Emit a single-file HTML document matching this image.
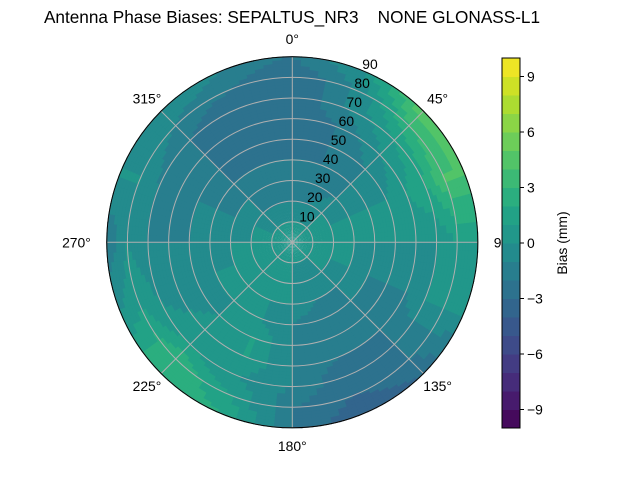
<!DOCTYPE html>
<html><head><meta charset="utf-8"><style>
body{margin:0;background:#fff}
svg{display:block;font-family:"Liberation Sans","DejaVu Sans",sans-serif}
</style></head><body>
<svg id="chart" width="640" height="480" viewBox="0 0 640 480">
<text x="292" y="23" font-size="17.2" text-anchor="middle" style="white-space:pre" xml:space="preserve">Antenna Phase Biases: SEPALTUS_NR3    NONE GLONASS-L1</text>
<g id="field"></g>
<g id="grid"></g>
<g id="labels"></g>
<g id="cbar"></g>
</svg>
<script>
// data: azimuth sectors (deg, clockwise from N) x zenith rings (0..90 step 10)
const azimuths = [0,22.5,45,67.5,90,112.5,135,157.5,180,202.5,225,247.5,270,292.5,315,337.5];
const zenithNodes = [0,10,20,30,40,50,60,70,80,90];
const biasValues = [
 [0,0,-1,-2,-2,-3,-3,-3,-3,-2],
 [0,0,-1,-2,-2,-2,-2,-1,-1,0],
 [0,0,0,-1,-1,-1,0,1,3,5],
 [0,0,0,0,0,0,1,2,4,4],
 [0,0,0,0,0,0,0,0,1,1],
 [0,0,0,0,-1,-1,-1,0,0,0],
 [0,0,0,-1,-1,-2,-2,-2,-2,-3],
 [0,0,-1,-1,-2,-2,-2,-3,-3,-4],
 [0,0,0,0,-1,-1,-1,-1,-2,-2],
 [0,0,0,0,0,1,1,0,1,2],
 [0,0,0,0,0,0,1,1,3,3],
 [0,0,0,0,0,-1,-1,0,1,0],
 [0,0,0,0,-1,-1,-1,-1,0,-2],
 [0,0,0,-1,-1,-1,-2,-1,0,0],
 [0,0,-1,-1,-2,-2,-2,-2,-1,0],
 [0,0,-1,-2,-2,-3,-3,-3,-2,-1]
];
const colorTicks = [-9,-6,-3,0,3,6,9];
const ringTicks = [10,20,30,40,50,60,70,80,90];
const angleTicks = [0,45,90,135,180,225,270,315];
const vmin=-10, vmax=10;

const NS='http://www.w3.org/2000/svg';
const cx=292.3, cy=242.3, R=185.5;
const FS=13.9;
const rScale = z => z/90*R;
const cbX=502, cbW=18, cbTop=58, cbBot=428;
const cbScale = v => cbBot-(v-vmin)/(vmax-vmin)*(cbBot-cbTop);
const vir=[[68,1,84],[72,36,117],[65,68,135],[53,95,141],[42,120,142],[33,145,140],[34,168,132],[68,191,112],[122,209,81],[189,223,38],[253,231,37]];
function viridis(t){t=Math.max(0,Math.min(1,t));const p=t*10,i=Math.min(9,Math.floor(p)),f=p-i;const a=vir[i],b=vir[i+1];return `rgb(${a.map((c,k)=>Math.round(c+(b[k]-c)*f)).join(',')})`;}
function levelColor(v){let k=Math.floor(v);k=Math.max(vmin,Math.min(vmax-1,k));return viridis((k+0.5-vmin)/(vmax-vmin));}
function mk(tag,attrs,parent){const e=document.createElementNS(NS,tag);for(const k in attrs)e.setAttribute(k,attrs[k]);parent.appendChild(e);return e;}
function pt(az,z){const r=rScale(z),a=az*Math.PI/180;return [cx+r*Math.sin(a),cy-r*Math.cos(a)];}
function sample(az,z){
  const n=azimuths.length,step=360/n;
  let ai=az/step,i0=Math.floor(ai)%n,i1=(i0+1)%n,fa=ai-Math.floor(ai);
  let zi=z/10,j0=Math.min(8,Math.floor(zi)),fz=zi-j0;
  const v=(i,j)=>biasValues[i][j];
  const a=v(i0,j0)*(1-fz)+v(i0,j0+1)*fz, b=v(i1,j0)*(1-fz)+v(i1,j0+1)*fz;
  return a*(1-fa)+b*fa;
}
const field=document.getElementById('field');
const dA=3,dZ=1.5;
for(let az=0;az<360;az+=dA){for(let z=0;z<90;z+=dZ){
  const v=sample(az+dA/2,z+dZ/2);
  const p1=pt(az-0.3,z),p2=pt(az+dA+0.3,z),p3=pt(az+dA+0.3,z+dZ+0.3),p4=pt(az-0.3,z+dZ+0.3);
  const c=levelColor(v);
  const cell=mk('path',{d:`M${p1}L${p2}L${p3}L${p4}Z`,fill:c,stroke:'none'},field);
  
  
}}
const grid=document.getElementById('grid');
ringTicks.forEach(t=>{
  const c=mk('circle',{cx,cy,r:rScale(t),fill:'none',stroke:'#b0b0b0','stroke-width':1},grid);
  
  
});
angleTicks.forEach(a=>{
  const p=pt(a,90);
  const l=mk('line',{x1:cx,y1:cy,x2:p[0],y2:p[1],stroke:'#b0b0b0','stroke-width':1},grid);
  
  
});
const border=mk('circle',{cx,cy,r:R,fill:'none',stroke:'#000','stroke-width':1},grid);


const labels=document.getElementById('labels');
angleTicks.forEach(a=>{
  const rad=a*Math.PI/180;
  const x=cx+(R+20)*Math.sin(rad)+(a==90?-4:(a==270?4:0)), y=cy-(R+18)*Math.cos(rad)+5;
  const t=mk('text',{x,y,'font-size':FS,'text-anchor':a==90?'start':(a==270?'end':'middle')},labels);
  t.textContent=a+'°';
  
  
});
ringTicks.forEach(z=>{
  const p=pt(22.5,z);
  const t=mk('text',{x:p[0]-1,y:p[1]-2,'font-size':FS,'text-anchor':'start'},labels);
  t.textContent=z;
  
  
});
const cbar=document.getElementById('cbar');
for(let k=vmin;k<vmax;k++){
  const r=mk('rect',{x:cbX,y:cbScale(k+1),width:cbW,height:cbScale(k)-cbScale(k+1)+0.5,fill:levelColor(k+0.5)},cbar);
  
  
}
const cf=mk('rect',{x:cbX,y:cbTop,width:cbW,height:cbBot-cbTop,fill:'none',stroke:'#000','stroke-width':1},cbar);


colorTicks.forEach(v=>{
  const y=cbScale(v);
  const tk=mk('line',{x1:cbX+cbW,x2:cbX+cbW+4,y1:y,y2:y,stroke:'#000'},cbar);
  
  
  const t=mk('text',{x:cbX+cbW+7,y:y+5,'font-size':FS},cbar);
  t.textContent=v<0?'\u2212'+(-v):String(v);
  
  
});
const lab=mk('text',{x:0,y:0,'font-size':FS,'text-anchor':'middle',transform:`translate(567,243) rotate(-90)`},cbar);
lab.textContent='Bias (mm)';


</script>
</body></html>
